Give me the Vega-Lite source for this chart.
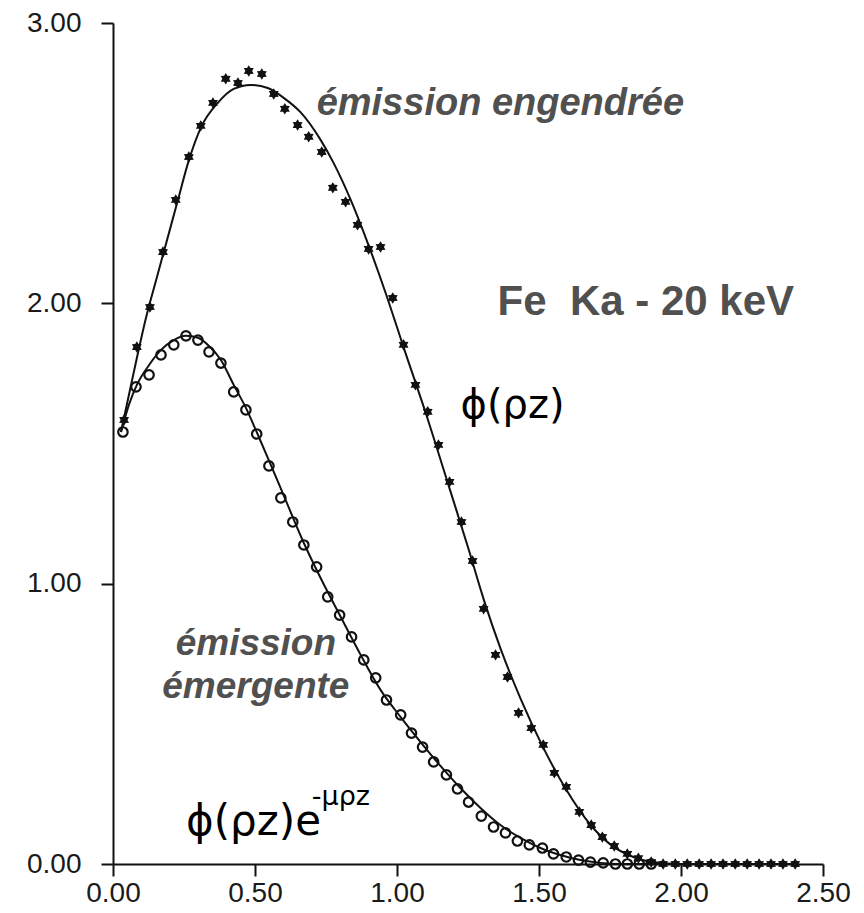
{
  "$schema": "https://vega.github.io/schema/vega-lite/v6.json",
  "autosize": {"type": "none"},
  "width": 710,
  "height": 841,
  "padding": {"left": 113, "top": 23, "right": 41, "bottom": 49},
  "background": "white",
  "config": {
    "view": {"stroke": null},
    "axis": {
      "grid": false,
      "domainColor": "#111",
      "domainWidth": 2,
      "tickColor": "#111",
      "tickWidth": 2,
      "tickSize": 12,
      "labelFont": "Liberation Sans",
      "labelFontSize": 28,
      "labelColor": "#1a1a1a",
      "title": null
    }
  },
  "datasets": {
    "fit_generated": [
      {"rz": 0.028, "phi": 1.541}, {"rz": 0.056, "phi": 1.673}, {"rz": 0.084, "phi": 1.805},
      {"rz": 0.116, "phi": 1.948}, {"rz": 0.151, "phi": 2.080}, {"rz": 0.186, "phi": 2.210},
      {"rz": 0.225, "phi": 2.355}, {"rz": 0.267, "phi": 2.510}, {"rz": 0.309, "phi": 2.626},
      {"rz": 0.369, "phi": 2.715}, {"rz": 0.425, "phi": 2.765}, {"rz": 0.485, "phi": 2.779},
      {"rz": 0.545, "phi": 2.768}, {"rz": 0.601, "phi": 2.733}, {"rz": 0.661, "phi": 2.681},
      {"rz": 0.731, "phi": 2.583}, {"rz": 0.777, "phi": 2.500}, {"rz": 0.837, "phi": 2.369},
      {"rz": 0.897, "phi": 2.215}, {"rz": 0.960, "phi": 2.037}, {"rz": 1.023, "phi": 1.844},
      {"rz": 1.104, "phi": 1.600}, {"rz": 1.188, "phi": 1.330}, {"rz": 1.250, "phi": 1.130},
      {"rz": 1.305, "phi": 0.945}, {"rz": 1.364, "phi": 0.770}, {"rz": 1.435, "phi": 0.590},
      {"rz": 1.515, "phi": 0.415}, {"rz": 1.593, "phi": 0.270}, {"rz": 1.681, "phi": 0.140},
      {"rz": 1.751, "phi": 0.070}, {"rz": 1.832, "phi": 0.025}, {"rz": 1.902, "phi": 0.006},
      {"rz": 1.997, "phi": 0.0}, {"rz": 2.402, "phi": 0.0}
    ],
    "fit_emerging": [
      {"rz": 0.028, "phi": 1.541}, {"rz": 0.056, "phi": 1.638}, {"rz": 0.084, "phi": 1.709},
      {"rz": 0.127, "phi": 1.780}, {"rz": 0.169, "phi": 1.834}, {"rz": 0.214, "phi": 1.869},
      {"rz": 0.257, "phi": 1.884}, {"rz": 0.299, "phi": 1.877}, {"rz": 0.338, "phi": 1.848},
      {"rz": 0.380, "phi": 1.798}, {"rz": 0.425, "phi": 1.709}, {"rz": 0.468, "phi": 1.627},
      {"rz": 0.506, "phi": 1.541}, {"rz": 0.556, "phi": 1.423}, {"rz": 0.608, "phi": 1.298},
      {"rz": 0.672, "phi": 1.145}, {"rz": 0.731, "phi": 1.020}, {"rz": 0.802, "phi": 0.881},
      {"rz": 0.872, "phi": 0.746}, {"rz": 0.942, "phi": 0.621}, {"rz": 1.013, "phi": 0.524},
      {"rz": 1.083, "phi": 0.435}, {"rz": 1.153, "phi": 0.350}, {"rz": 1.224, "phi": 0.270},
      {"rz": 1.294, "phi": 0.200}, {"rz": 1.364, "phi": 0.139}, {"rz": 1.435, "phi": 0.093},
      {"rz": 1.505, "phi": 0.057}, {"rz": 1.575, "phi": 0.032}, {"rz": 1.646, "phi": 0.014},
      {"rz": 1.716, "phi": 0.004}, {"rz": 1.786, "phi": 0.0}, {"rz": 2.402, "phi": 0.0}
    ],
    "measured_generated": [
      {"rz": 0.039, "phi": 1.584}, {"rz": 0.084, "phi": 1.844}, {"rz": 0.130, "phi": 1.987},
      {"rz": 0.176, "phi": 2.183}, {"rz": 0.221, "phi": 2.369}, {"rz": 0.267, "phi": 2.522},
      {"rz": 0.309, "phi": 2.633}, {"rz": 0.352, "phi": 2.715}, {"rz": 0.397, "phi": 2.801},
      {"rz": 0.440, "phi": 2.786}, {"rz": 0.478, "phi": 2.829}, {"rz": 0.524, "phi": 2.818},
      {"rz": 0.566, "phi": 2.747}, {"rz": 0.605, "phi": 2.694}, {"rz": 0.650, "phi": 2.636},
      {"rz": 0.689, "phi": 2.594}, {"rz": 0.735, "phi": 2.540}, {"rz": 0.774, "phi": 2.412},
      {"rz": 0.819, "phi": 2.362}, {"rz": 0.861, "phi": 2.280}, {"rz": 0.900, "phi": 2.194},
      {"rz": 0.942, "phi": 2.201}, {"rz": 0.985, "phi": 2.019}, {"rz": 1.023, "phi": 1.852},
      {"rz": 1.065, "phi": 1.709}, {"rz": 1.108, "phi": 1.613}, {"rz": 1.146, "phi": 1.495},
      {"rz": 1.185, "phi": 1.363}, {"rz": 1.227, "phi": 1.220}, {"rz": 1.266, "phi": 1.081},
      {"rz": 1.305, "phi": 0.910}, {"rz": 1.347, "phi": 0.746}, {"rz": 1.389, "phi": 0.667},
      {"rz": 1.428, "phi": 0.539}, {"rz": 1.473, "phi": 0.485}, {"rz": 1.515, "phi": 0.425},
      {"rz": 1.554, "phi": 0.325}, {"rz": 1.596, "phi": 0.275}, {"rz": 1.642, "phi": 0.186},
      {"rz": 1.684, "phi": 0.139}, {"rz": 1.723, "phi": 0.096}, {"rz": 1.765, "phi": 0.064},
      {"rz": 1.811, "phi": 0.036}, {"rz": 1.850, "phi": 0.021}, {"rz": 1.895, "phi": 0.007},
      {"rz": 1.937, "phi": 0.0}, {"rz": 1.980, "phi": 0.0}, {"rz": 2.022, "phi": 0.0},
      {"rz": 2.064, "phi": 0.0}, {"rz": 2.106, "phi": 0.0}, {"rz": 2.148, "phi": 0.0},
      {"rz": 2.191, "phi": 0.0}, {"rz": 2.233, "phi": 0.0}, {"rz": 2.275, "phi": 0.0},
      {"rz": 2.317, "phi": 0.0}, {"rz": 2.359, "phi": 0.0}, {"rz": 2.402, "phi": 0.0}
    ],
    "measured_emerging": [
      {"rz": 0.035, "phi": 1.541}, {"rz": 0.081, "phi": 1.702}, {"rz": 0.127, "phi": 1.745},
      {"rz": 0.169, "phi": 1.816}, {"rz": 0.214, "phi": 1.852}, {"rz": 0.257, "phi": 1.884},
      {"rz": 0.299, "phi": 1.869}, {"rz": 0.338, "phi": 1.827}, {"rz": 0.380, "phi": 1.787},
      {"rz": 0.425, "phi": 1.684}, {"rz": 0.468, "phi": 1.620}, {"rz": 0.506, "phi": 1.534},
      {"rz": 0.549, "phi": 1.420}, {"rz": 0.591, "phi": 1.306}, {"rz": 0.633, "phi": 1.220},
      {"rz": 0.672, "phi": 1.138}, {"rz": 0.717, "phi": 1.060}, {"rz": 0.756, "phi": 0.953},
      {"rz": 0.798, "phi": 0.888}, {"rz": 0.840, "phi": 0.810}, {"rz": 0.883, "phi": 0.728},
      {"rz": 0.925, "phi": 0.664}, {"rz": 0.963, "phi": 0.585}, {"rz": 1.013, "phi": 0.532},
      {"rz": 1.051, "phi": 0.467}, {"rz": 1.090, "phi": 0.417}, {"rz": 1.129, "phi": 0.364},
      {"rz": 1.174, "phi": 0.318}, {"rz": 1.213, "phi": 0.268}, {"rz": 1.252, "phi": 0.221},
      {"rz": 1.297, "phi": 0.171}, {"rz": 1.340, "phi": 0.132}, {"rz": 1.382, "phi": 0.111},
      {"rz": 1.424, "phi": 0.082}, {"rz": 1.466, "phi": 0.068}, {"rz": 1.512, "phi": 0.057},
      {"rz": 1.551, "phi": 0.036}, {"rz": 1.596, "phi": 0.025}, {"rz": 1.639, "phi": 0.014},
      {"rz": 1.681, "phi": 0.007}, {"rz": 1.726, "phi": 0.004}, {"rz": 1.769, "phi": 0.0},
      {"rz": 1.811, "phi": 0.0}, {"rz": 1.853, "phi": 0.0}, {"rz": 1.895, "phi": 0.0}
    ]
  },
  "layer": [
    {
      "data": {"name": "fit_generated"},
      "mark": {"type": "line", "color": "#111", "strokeWidth": 2, "interpolate": "monotone"},
      "encoding": {
        "x": {
          "field": "rz",
          "type": "quantitative",
          "scale": {"domain": [0, 2.5], "nice": false, "zero": false},
          "axis": {"values": [0, 0.5, 1, 1.5, 2, 2.5], "format": ".2f", "labelPadding": 3, "labelFlush": false}
        },
        "y": {
          "field": "phi",
          "type": "quantitative",
          "scale": {"domain": [0, 3], "nice": false},
          "axis": {"values": [0, 1, 2, 3], "format": ".2f", "labelPadding": 20}
        }
      }
    },
    {
      "data": {"name": "fit_emerging"},
      "mark": {"type": "line", "color": "#111", "strokeWidth": 2, "interpolate": "monotone"},
      "encoding": {"x": {"field": "rz", "type": "quantitative"}, "y": {"field": "phi", "type": "quantitative"}}
    },
    {
      "data": {"name": "measured_emerging"},
      "mark": {"type": "point", "shape": "circle", "filled": false, "color": "#111", "strokeWidth": 2.2, "size": 90, "opacity": 1},
      "encoding": {"x": {"field": "rz", "type": "quantitative"}, "y": {"field": "phi", "type": "quantitative"}}
    },
    {
      "data": {"name": "measured_generated"},
      "mark": {
        "type": "point",
        "shape": "M0,-1L0.3,-0.52L0.866,-0.5L0.6,0L0.866,0.5L0.3,0.52L0,1L-0.3,0.52L-0.866,0.5L-0.6,0L-0.866,-0.5L-0.3,-0.52Z",
        "filled": true,
        "color": "#111",
        "size": 130,
        "opacity": 1
      },
      "encoding": {"x": {"field": "rz", "type": "quantitative"}, "y": {"field": "phi", "type": "quantitative"}}
    },
    {
      "data": {"values": [{"label": "émission engendrée"}]},
      "mark": {"type": "text", "font": "Liberation Sans", "fontWeight": "bold", "fontStyle": "italic", "fontSize": 38, "color": "#505050", "align": "center", "baseline": "alphabetic"},
      "encoding": {"x": {"datum": 1.364}, "y": {"datum": 2.672}, "text": {"field": "label"}}
    },
    {
      "data": {"values": [{"label": "Fe\u00a0\u00a0Ka - 20 keV"}]},
      "mark": {"type": "text", "font": "Liberation Sans", "fontWeight": "bold", "fontSize": 42, "color": "#505050", "align": "left", "baseline": "alphabetic"},
      "encoding": {"x": {"datum": 1.354}, "y": {"datum": 1.959}, "text": {"field": "label"}}
    },
    {
      "data": {"values": [{"label": "ϕ(ρz)"}]},
      "mark": {"type": "text", "font": "DejaVu Sans", "fontSize": 40, "color": "#000", "align": "left", "baseline": "alphabetic"},
      "encoding": {"x": {"datum": 1.224}, "y": {"datum": 1.591}, "text": {"field": "label"}}
    },
    {
      "data": {"values": [{"label": "émission"}]},
      "mark": {"type": "text", "font": "Liberation Sans", "fontWeight": "bold", "fontStyle": "italic", "fontSize": 37, "color": "#505050", "align": "center", "baseline": "alphabetic"},
      "encoding": {"x": {"datum": 0.503}, "y": {"datum": 0.745}, "text": {"field": "label"}}
    },
    {
      "data": {"values": [{"label": "émergente"}]},
      "mark": {"type": "text", "font": "Liberation Sans", "fontWeight": "bold", "fontStyle": "italic", "fontSize": 37, "color": "#505050", "align": "center", "baseline": "alphabetic"},
      "encoding": {"x": {"datum": 0.503}, "y": {"datum": 0.592}, "text": {"field": "label"}}
    },
    {
      "data": {"values": [{"label": "ϕ(ρz)e"}]},
      "mark": {"type": "text", "font": "DejaVu Sans", "fontSize": 42, "color": "#000", "align": "left", "baseline": "alphabetic"},
      "encoding": {"x": {"datum": 0.257}, "y": {"datum": 0.103}, "text": {"field": "label"}}
    },
    {
      "data": {"values": [{"label": "-μρz"}]},
      "mark": {"type": "text", "font": "DejaVu Sans", "fontSize": 27, "color": "#000", "align": "left", "baseline": "alphabetic"},
      "encoding": {"x": {"datum": 0.70}, "y": {"datum": 0.21}, "text": {"field": "label"}}
    }
  ]
}
